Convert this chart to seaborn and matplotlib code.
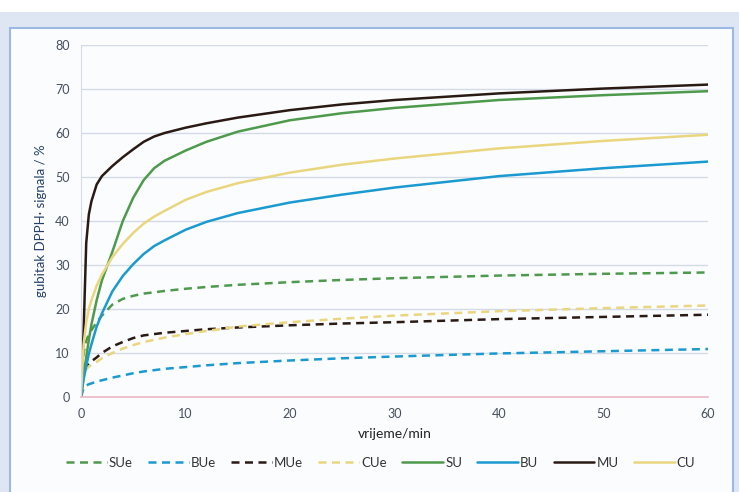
import numpy as np
import pandas as pd
import seaborn as sns
import matplotlib.pyplot as plt
from matplotlib.patches import Rectangle

# vrijeme / min
t = [0, 0.25, 0.5, 0.75, 1, 1.5, 2, 3, 4, 5, 6, 7, 8, 10, 12, 15, 20, 25, 30, 40, 50, 60]

# gubitak DPPH signala / %
SUe = [0, 10, 12.8, 14.2, 15.2, 17, 18.5, 21, 22.3, 23, 23.5, 23.8, 24.1, 24.6, 25, 25.5, 26.1, 26.6, 27, 27.6, 28, 28.3]
BUe = [0, 2, 2.6, 2.9, 3.1, 3.5, 3.8, 4.4, 4.9, 5.4, 5.8, 6.1, 6.4, 6.8, 7.2, 7.7, 8.3, 8.8, 9.2, 9.9, 10.4, 10.9]
MUe = [0, 5.5, 7, 7.6, 8.1, 9, 10, 11.5, 12.5, 13.4, 14, 14.3, 14.6, 15, 15.4, 15.8, 16.3, 16.7, 17, 17.7, 18.2, 18.7]
CUe = [0, 5, 6.3, 6.9, 7.3, 8, 8.8, 10, 11, 11.8, 12.5, 13, 13.5, 14.3, 15, 16, 17, 17.8, 18.5, 19.5, 20.2, 20.8]
SU = [0, 5, 9, 13, 16.5, 22, 26.5, 33, 40, 45.3, 49.3, 52, 53.7, 56, 58, 60.3, 62.9, 64.5, 65.7, 67.5, 68.6, 69.5]
BU = [0, 4, 7, 9.8, 12, 16, 19, 24, 27.5, 30.2, 32.5, 34.3, 35.6, 38, 39.8, 41.8, 44.2, 46, 47.6, 50.2, 52, 53.5]
MU = [0, 15, 35, 41.5, 44.5, 48.3, 50.2, 52.5, 54.5, 56.3, 58, 59.2, 60, 61.2, 62.2, 63.5, 65.2, 66.5, 67.5, 69, 70.1, 71]
CU = [0, 12, 17, 20, 22, 25.3, 27.8, 31.8, 34.8, 37.3, 39.4, 41, 42.3, 44.8, 46.6, 48.6, 51, 52.8, 54.2, 56.5, 58.2, 59.6]

names = ['SUe', 'BUe', 'MUe', 'CUe', 'SU', 'BU', 'MU', 'CU']
values = [SUe, BUe, MUe, CUe, SU, BU, MU, CU]

green = '#4e9a4c'
blue = '#1a9ad0'
brown = '#2a1a14'
yellow = '#e9d67e'
colors = [green, blue, brown, yellow, green, blue, brown, yellow]

df = pd.DataFrame({'t': t * len(names),
                   'y': sum(values, []),
                   'serija': np.repeat(names, len(t))})

sns.set_style('white')
plt.rcParams['font.family'] = ['Lato', 'DejaVu Sans']

fig = plt.figure(figsize=(7.39, 4.92), dpi=100)
fig.patch.set_facecolor('#dfe6f3')
fig.patches.append(Rectangle((0, 1 - 12 / 492), 1, 12 / 492, transform=fig.transFigure,
                             facecolor='white', edgecolor='none', zorder=-2))
fig.patches.append(Rectangle((10 / 739, -0.02), 723 / 739, (492 - 28) / 492 + 0.02,
                             transform=fig.transFigure, facecolor='#fbfcfe',
                             edgecolor='#9bb9e2', linewidth=1.5, zorder=-1))

ax = fig.add_axes([81 / 739, 1 - 397 / 492, 627 / 739, 352 / 492])
ax.set_facecolor('#fbfcfe')

for name, col in zip(names, colors):
    dashed = name.endswith('e')
    sns.lineplot(data=df[df['serija'] == name], x='t', y='y', ax=ax, color=col,
                 linewidth=1.8, label=name,
                 linestyle=(0, (3.2, 2.2)) if dashed else '-')

ax.set_xlim(0, 60)
ax.set_ylim(0, 80)
ax.set_xticks(range(0, 61, 10))
ax.set_yticks(range(0, 81, 10))
ax.grid(axis='y', color='#d3dbe6', linewidth=1)
ax.set_axisbelow(True)
for s in ['top', 'right']:
    ax.spines[s].set_visible(False)
ax.spines['left'].set_color('#d3dbe6')
ax.spines['bottom'].set_color('#ecb8c4')
ax.spines['bottom'].set_linewidth(1.2)
ax.tick_params(axis='both', length=0, labelsize=9, colors='#44505c', pad=8)
ax.set_xlabel('vrijeme/min', fontsize=10, color='#222222', labelpad=6)
ax.set_ylabel('gubitak DPPH· signala / %', fontsize=9.5, color='#24406a', labelpad=6)

ax.get_legend().remove()
handles, labels = ax.get_legend_handles_labels()
fig.legend(handles, labels, loc='center', bbox_to_anchor=(0.515, 1 - 463 / 492), ncol=8,
           frameon=False, fontsize=9.5, handlelength=3.1, handletextpad=0.15,
           columnspacing=1.15, labelcolor='#333333')

fig.savefig('out.png', dpi=100, facecolor=fig.get_facecolor())
